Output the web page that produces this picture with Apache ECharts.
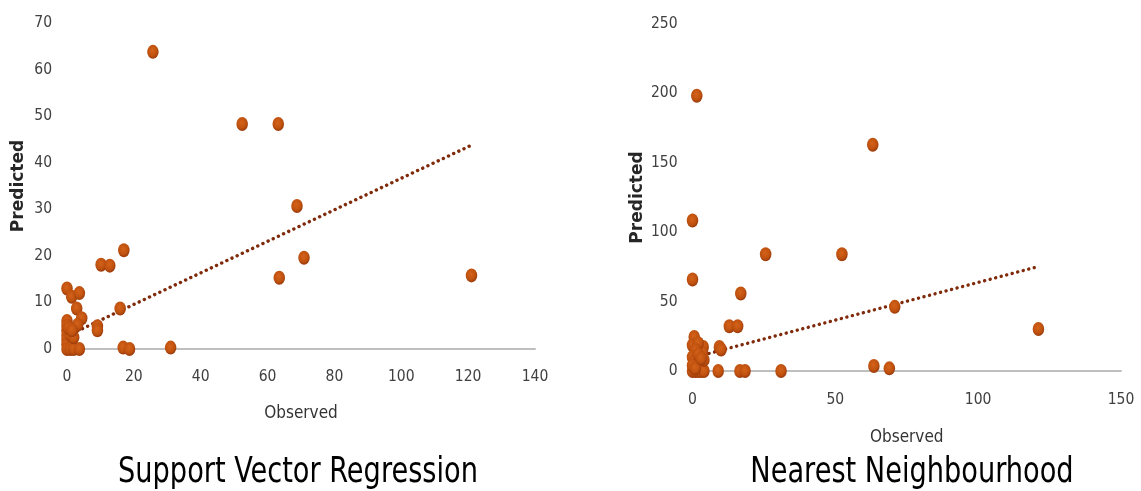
<!DOCTYPE html>
<html>
<head>
<meta charset="utf-8">
<script src="https://cdn.jsdelivr.net/npm/echarts@6/dist/echarts.min.js"></script>
<style>
html,body{margin:0;padding:0;background:#fff;}
#c{width:1141px;height:491px;}
</style>
</head>
<body>
<div id="c"></div>
<script>
// ---- Support Vector Regression (left) ----
const svrObserved = [0, 1.4, 3.7, 2.9, 4.4, 3.2, 0, 0, 0, 0, 0, 0, 0, 1, 2, 3.7, 1, 2, 0.5, 1.5,
  9.1, 9.1, 10.2, 12.8, 15.9, 17.0, 16.8, 18.7, 25.7, 31.0, 52.4, 63.2, 63.5, 68.8, 70.9, 121];
const svrPredicted = [13, 11.2, 12.0, 8.7, 6.6, 5.2, 6, 5, 4, 3, 2, 1, 0, 0, 0, 0, 3, 2.5, 4.5, 4,
  4.9, 4.0, 18.1, 17.9, 8.7, 21.2, 0.3, 0, 63.8, 0.3, 48.3, 48.3, 15.3, 30.7, 19.6, 15.8];
const svrTrendX = [0, 120.5];
const svrTrendY = [2.8, 43.6];
const svrXTicks = [0, 140, 20];   // min, max, interval
const svrYTicks = [0, 70, 10];

// ---- Nearest Neighbourhood (right) ----
const nnObserved = [0.6, 0, 3.75, 3.5, 2, 1, 0, 1, 2, 3, 0, 1, 2, 3, 4, 4, 0, 1, 2, 3,
  0, 0, 1.5, 9, 9.4, 10, 12.9, 15.8, 16.6, 18.4, 16.9, 25.6, 31, 52.3, 63.1, 63.5, 68.9, 70.8, 121.1];
const nnPredicted = [24.5, 18.5, 17.3, 13, 20, 15, 10, 8, 5, 3, 0, 0, 0, 0, 0, 8, 4, 2, 12, 9,
  108.4, 65.9, 198.3, 0, 17.3, 15.5, 32.2, 32.2, 0, 0, 55.8, 84.1, 0, 84.1, 163, 3.6, 1.9, 46.2, 30.3];
const nnTrendX = [0, 120.6];
const nnTrendY = [9.5, 75.0];
const nnXTicks = [0, 150, 50];
const nnYTicks = [0, 250, 50];

const chartTitles = ['Support Vector Regression', 'Nearest Neighbourhood'];

const zip = (a, b) => a.map((v, i) => [v, b[i]]);

const narrow = "'Liberation Sans Narrow', 'DejaVu Sans Condensed', sans-serif";
const markerColor = {
  type: 'radial', x: 0.45, y: 0.4, r: 0.6,
  colorStops: [
    { offset: 0, color: '#D4621A' },
    { offset: 0.65, color: '#C0520F' },
    { offset: 1, color: '#99390A' }
  ]
};

function xAxis(idx, t, gap, margin) {
  return {
    gridIndex: idx, type: 'value', min: t[0], max: t[1], interval: t[2],
    name: 'Observed', nameLocation: 'middle', nameGap: gap,
    nameTextStyle: { fontFamily: narrow, fontSize: 17, color: '#333333' },
    axisLine: { show: true, onZero: false, lineStyle: { color: '#BFBFBF', width: 2 } },
    axisTick: { show: false }, splitLine: { show: false },
    axisLabel: { fontFamily: narrow, fontSize: 15.5, color: '#404040', margin: margin }
  };
}
function yAxis(idx, t, gap) {
  return {
    gridIndex: idx, type: 'value', min: t[0], max: t[1], interval: t[2],
    name: 'Predicted', nameLocation: 'middle', nameGap: gap, nameRotate: 90,
    nameTextStyle: { fontFamily: "'DejaVu Sans', sans-serif", fontWeight: 'bold', fontSize: 17, color: '#262626' },
    axisLine: { show: false }, axisTick: { show: false }, splitLine: { show: false },
    axisLabel: { fontFamily: narrow, fontSize: 15.5, color: '#404040', margin: 15 }
  };
}
function scatter(idx, obs, pred) {
  return {
    type: 'scatter', xAxisIndex: idx, yAxisIndex: idx, z: 3,
    data: zip(obs, pred), symbol: 'circle', symbolSize: [11.5, 14],
    itemStyle: { color: markerColor, opacity: 1 }
  };
}
function trend(idx, xs, ys) {
  return {
    type: 'line', xAxisIndex: idx, yAxisIndex: idx, z: 2,
    data: zip(xs, ys), symbol: 'none', silent: true,
    lineStyle: { color: '#7F2A0A', width: 3.4, type: [0.1, 5.6], cap: 'round' }
  };
}
function titleText(text, cx) {
  return {
    type: 'text', x: cx, y: 473, scaleX: 0.84, originX: 0, originY: 0,
    style: { text: text, x: 0, y: 0, fontFamily: narrow, fontSize: 36, fill: '#000',
      align: 'center', verticalAlign: 'middle' }
  };
}

const chart = echarts.init(document.getElementById('c'));
chart.setOption({
  animation: false,
  backgroundColor: '#ffffff',
  graphic: [titleText(chartTitles[0], 298), titleText(chartTitles[1], 912)],
  grid: [
    { left: 67, top: 23, width: 468, height: 326 },
    { left: 692.5, top: 24, width: 428.5, height: 347 }
  ],
  xAxis: [xAxis(0, svrXTicks, 56, 20), xAxis(1, nnXTicks, 58, 21)],
  yAxis: [yAxis(0, svrYTicks, 40), yAxis(1, nnYTicks, 46)],
  series: [
    trend(0, svrTrendX, svrTrendY),
    scatter(0, svrObserved, svrPredicted),
    trend(1, nnTrendX, nnTrendY),
    scatter(1, nnObserved, nnPredicted)
  ]
});
</script>
</body>
</html>
